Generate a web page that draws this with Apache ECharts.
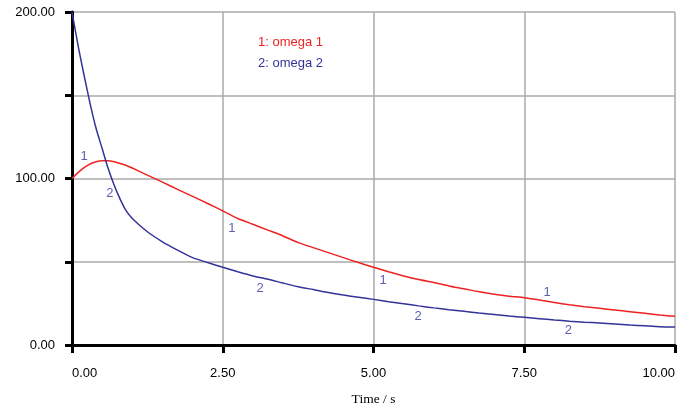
<!DOCTYPE html>
<html>
<head>
<meta charset="utf-8">
<script src="https://cdn.jsdelivr.net/npm/echarts@6/dist/echarts.min.js"></script>
<style>
  html, body { margin: 0; padding: 0; background: #fff; }
  #chart { width: 677px; height: 407px; }
</style>
</head>
<body>
<div id="chart"></div>
<script>
// time points (s) and the two angular velocities
const omega1Time = [0, 0.1, 0.2, 0.3, 0.4, 0.5, 0.6, 0.7, 0.8, 0.9, 1.0, 1.25, 1.5, 1.75, 2.0, 2.25, 2.5, 2.75, 3.0, 3.25, 3.5, 3.75, 4.0, 4.25, 4.5, 4.75, 5.0, 5.25, 5.5, 5.75, 6.0, 6.25, 6.5, 6.75, 7.0, 7.25, 7.5, 7.75, 8.0, 8.25, 8.5, 8.75, 9.0, 9.25, 9.5, 9.75, 10.0];
const omega1 = [100, 103.5, 106.5, 108.7, 110, 110.6, 110.6, 110, 109, 107.8, 106.3, 102, 97.8, 93.5, 89.3, 85, 80.6, 76, 72.5, 69, 65.5, 61.5, 58.5, 55.5, 52.5, 49.5, 46.7, 44, 41.5, 39.3, 37.5, 35.5, 33.8, 32, 30.5, 29.3, 28.4, 27, 25.5, 24.2, 23, 22, 21, 20, 19, 18, 17.2];
const omega2Time = omega1Time;
const omega2 = [200, 180, 162, 145, 130, 118, 106, 96, 87.5, 80.5, 76, 68, 62, 57, 52.5, 49.5, 46.7, 44, 41.5, 39.5, 37.2, 35, 33.3, 31.5, 30, 28.7, 27.4, 26, 24.8, 23.5, 22.3, 21.2, 20.2, 19.2, 18.3, 17.4, 16.6, 15.8, 15, 14.3, 13.7, 13.2, 12.6, 12, 11.5, 11, 10.8];

// curve id markers placed along the lines
const markerTime = [0.2, 2.65, 5.16, 7.88, 0.63, 3.12, 5.74, 8.23];
const markerValue = [113, 70, 39, 31.8, 91, 34, 17.4, 9];
const markerText = ['1', '1', '1', '1', '2', '2', '2', '2'];

const seriesNames = ['1: omega 1', '2: omega 2'];
const yLabelValues = [0, 100, 200];

const pairs = (xs, ys) => xs.map((x, i) => [x, ys[i]]);

const chart = echarts.init(document.getElementById('chart'));
chart.setOption({
  animation: false,
  grid: { left: 72, right: 2, top: 12, bottom: 62, outerBoundsMode: 'none' },
  legend: {
    orient: 'vertical',
    left: 248,
    top: 30,
    icon: 'none',
    itemWidth: 0,
    itemGap: 8,
    selectedMode: false,
    data: [
      { name: seriesNames[0], textStyle: { color: '#ee2222' } },
      { name: seriesNames[1], textStyle: { color: '#33339a' } },
    ],
    textStyle: { fontFamily: 'Liberation Sans, Arial, sans-serif', fontSize: 13 },
  },
  xAxis: {
    type: 'value',
    min: 0,
    max: 10,
    interval: 2.5,
    name: 'Time / s',
    nameLocation: 'middle',
    nameGap: 47,
    nameTextStyle: { fontFamily: 'Liberation Serif, Times New Roman, serif', fontSize: 13.5, color: '#000' },
    axisLine: { lineStyle: { color: '#000', width: 3 } },
    axisTick: { length: 8, lineStyle: { color: '#000', width: 3 } },
    axisLabel: {
      margin: 22,
      color: '#000',
      fontFamily: 'Liberation Sans, Arial, sans-serif',
      fontSize: 13,
      alignMinLabel: 'left',
      alignMaxLabel: 'right',
      formatter: (v) => v.toFixed(2),
    },
    splitLine: { show: true, lineStyle: { color: '#aaa', width: 1.5 } },
  },
  yAxis: {
    type: 'value',
    min: 0,
    max: 200,
    interval: 50,
    axisLine: { show: true, lineStyle: { color: '#000', width: 3 } },
    axisTick: { show: true, length: 7, lineStyle: { color: '#000', width: 3 } },
    axisLabel: {
      margin: 17,
      color: '#000',
      fontFamily: 'Liberation Sans, Arial, sans-serif',
      fontSize: 13,
      formatter: (v) => (yLabelValues.includes(v) ? v.toFixed(2) : ''),
    },
    splitLine: { show: true, lineStyle: { color: '#aaa', width: 1.5 } },
  },
  series: [
    {
      name: seriesNames[0],
      type: 'line',
      smooth: 0.2,
      symbol: 'none',
      lineStyle: { color: '#ee2222', width: 1.5 },
      itemStyle: { color: '#ee2222' },
      data: pairs(omega1Time, omega1),
      z: 3,
    },
    {
      name: seriesNames[1],
      type: 'line',
      smooth: 0.2,
      symbol: 'none',
      lineStyle: { color: '#33339a', width: 1.5 },
      itemStyle: { color: '#33339a' },
      data: pairs(omega2Time, omega2),
      z: 3,
    },
    {
      type: 'scatter',
      symbolSize: 0,
      silent: true,
      data: markerTime.map((t, i) => ({ value: [t, markerValue[i]], name: markerText[i] })),
      label: {
        show: true,
        position: 'inside',
        formatter: (p) => p.name,
        color: '#33339a',
        fontFamily: 'Liberation Sans, Arial, sans-serif',
        fontSize: 13,
      },
      z: 4,
    },
  ],
});
</script>
</body>
</html>
